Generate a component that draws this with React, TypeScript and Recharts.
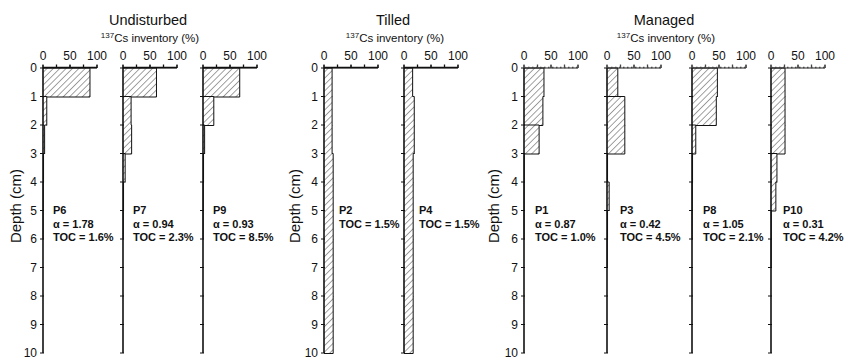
import React from 'react';
import { BarChart, Bar, XAxis, YAxis } from 'recharts';

// depth intervals (cm) and axis ticks
const depthBins = ['0-1', '1-2', '2-3', '3-4', '4-5', '5-6', '6-7', '7-8', '8-9', '9-10'];
const depthTicks = [0, 1, 2, 3, 4, 5, 6, 7, 8, 9, 10];
const pctTicks = [0, 25, 50, 75, 100];
const pctLabels = [0, 50, 100];

// 137Cs inventory (%) per 1-cm interval
const P6 = [87, 7, 3, 1, 0.5, 0.3, 0, 0, 0, 0];
const P7 = [62, 15, 16, 4, 1, 0.5, 0, 0, 0, 0];
const P9 = [68, 20, 3, 1, 0.5, 0.3, 0, 0, 0, 0];
const P2 = [15, 15, 15, 17, 17, 17, 17, 17, 17, 17];
const P4 = [16, 19, 19, 17, 17, 17, 17, 17, 17, 17];
const P1 = [37, 35, 28, 0.5, 0.3, 0.2, 0, 0, 0, 0];
const P3 = [20, 33, 33, 1, 4, 1, 0.5, 0, 0, 0];
const P8 = [47, 45, 7, 1, 0.5, 0.3, 0, 0, 0, 0];
const P10 = [26, 26, 26, 11, 9, 0.5, 0.3, 0, 0, 0];

// annotations
const panelNames = ['P6', 'P7', 'P9', 'P2', 'P4', 'P1', 'P3', 'P8', 'P10'];
const panelAlpha = ['1.78', '0.94', '0.93', '', '', '0.87', '0.42', '1.05', '0.31'];
const panelTOC = ['1.6%', '2.3%', '8.5%', '1.5%', '1.5%', '1.0%', '4.5%', '2.1%', '4.2%'];
const panelValues = [P6, P7, P9, P2, P4, P1, P3, P8, P10];

const groupTitles = ['Undisturbed', 'Tilled', 'Managed'];

// layout (pixels)
const panelX0 = [43, 123, 203, 324, 404, 524, 607, 692, 771];
const panelShowDepth = [true, false, false, true, false, true, false, false, false];
const panelDottedTop = [false, false, false, false, false, true, true, true, true];
const panelTextDx = [10, 10, 10, 15, 15, 11, 13, 11, 12];
const groupCenters = [148, 393, 664];
const depthLabelX = [15, 294, 493];

const FONT = '"Liberation Sans", Arial, Helvetica, sans-serif';
const ML = 30;
const MR = 12;
const PW = 54;
const TOP = 68;
const XH = 20;
const H = 362;
const BOTTOM = 9;
const HALF_BAND = (H - TOP - BOTTOM) / depthBins.length / 2;
const PCT_MAX = 100;

function makeShape(values: number[]) {
  return (props: any) => {
    const { x, y, width, height, index } = props;
    const cur = values[index];
    if (!cur || width <= 0) return <g />;
    const k = width / cur;
    const prev = index > 0 ? values[index - 1] : undefined;
    const next = index < values.length - 1 ? values[index + 1] : undefined;
    const segs: React.ReactNode[] = [];
    segs.push(<line key="r" x1={x + width} y1={y} x2={x + width} y2={y + height} />);
    if (prev === undefined || Math.abs(prev - cur) > 5) {
      segs.push(<line key="t" x1={x} y1={y} x2={x + width} y2={y} />);
    } else if (prev !== cur) {
      segs.push(<line key="t" x1={x + Math.min(prev, cur) * k} y1={y} x2={x + Math.max(prev, cur) * k} y2={y} />);
    }
    if (next === undefined || Math.abs(next - cur) > 5) {
      segs.push(<line key="b" x1={x} y1={y + height} x2={x + width} y2={y + height} />);
    }
    return (
      <g>
        <rect x={x} y={y} width={width} height={height} fill={props.fill} stroke="none" />
        <g stroke="#111" strokeWidth={1}>{segs}</g>
      </g>
    );
  };
}

function makeDepthTick(showLabels: boolean) {
  return (props: any) => {
    const { x, y, index } = props;
    const marks = [{ yy: y - HALF_BAND, label: depthTicks[index] }];
    if (index === depthBins.length - 1) marks.push({ yy: y + HALF_BAND, label: depthTicks[index + 1] });
    return (
      <g>
        {marks.map((m) => (
          <g key={m.label}>
            <line x1={x - 3} y1={m.yy} x2={x + 1} y2={m.yy} stroke="#111" strokeWidth={1} />
            {showLabels && (
              <text x={x - 6} y={m.yy} textAnchor="end" dominantBaseline="central" fontSize={12} fill="#111">
                {m.label}
              </text>
            )}
          </g>
        ))}
      </g>
    );
  };
}

function PctTick(props: any) {
  const { x, y, payload } = props;
  const v = payload.value;
  return (
    <g>
      <line x1={x} y1={y} x2={x} y2={y - 3} stroke="#222" strokeWidth={1} />
      {pctLabels.includes(v) && (
        <text x={x} y={y - 8} textAnchor="middle" fontSize={12} fill="#111">
          {v}
        </text>
      )}
    </g>
  );
}

function Panel({ idx }: { idx: number }) {
  const values = panelValues[idx];
  const data = depthBins.map((d, i) => ({ d, v: values[i] }));
  const hatchId = `hatch-${idx}`;
  const showDepth = panelShowDepth[idx];
  return (
    <div style={{ position: 'absolute', left: panelX0[idx] - ML, top: 0 }}>
      <BarChart
        width={ML + PW + MR}
        height={H}
        data={data}
        layout="vertical"
        margin={{ top: TOP - XH, bottom: BOTTOM, left: ML - 1, right: MR }}
        barCategoryGap={0}
      >
        <defs>
          <pattern id={hatchId} patternUnits="userSpaceOnUse" width={4.5} height={4.5} patternTransform="rotate(45)">
            <rect x={0} y={0} width={4.5} height={4.5} fill="#fff" />
            <line x1={0} y1={0} x2={0} y2={4.5} stroke="#444" strokeWidth={1} />
          </pattern>
        </defs>
        <XAxis
          type="number"
          orientation="top"
          domain={[0, PCT_MAX]}
          ticks={pctTicks}
          height={XH}
          tickSize={0}
          tickMargin={0}
          axisLine={{ stroke: '#222', strokeWidth: 1 }}
          tickLine={false}
          tick={<PctTick />}
          interval={0}
        />
        <YAxis
          type="category"
          dataKey="d"
          width={1}
          interval={0}
          tickSize={0}
          tickMargin={0}
          tickLine={false}
          axisLine={{ stroke: '#111', strokeWidth: 1.6 }}
          tick={makeDepthTick(showDepth)}
        />
        <Bar
          dataKey="v"
          fill={`url(#${hatchId})`}
          shape={makeShape(values)}
          isAnimationActive={false}
        />
      </BarChart>
    </div>
  );
}

export default function App() {
  return (
    <div
      style={{
        position: 'absolute',
        left: 0,
        top: 0,
        width: 846,
        height: H,
        background: '#fff',
        fontFamily: FONT,
      }}
    >
      {panelValues.map((_, i) => (
        <Panel key={i} idx={i} />
      ))}
      <svg
        width={846}
        height={H}
        style={{ position: 'absolute', left: 0, top: 0, pointerEvents: 'none', fontFamily: FONT }}
      >
        {panelX0.map((x0, i) => (
          <g key={`ax-${i}`} stroke={panelDottedTop[i] ? '#444' : '#111'} strokeWidth={1.3}>
            <line
              x1={x0}
              y1={TOP - 0.5}
              x2={x0 + PW}
              y2={TOP - 0.5}
              strokeDasharray={panelDottedTop[i] ? '1.5 2.5' : undefined}
            />
            {pctTicks.map((t) => (
              <line
                key={t}
                x1={x0 + (PW * t) / PCT_MAX}
                y1={TOP}
                x2={x0 + (PW * t) / PCT_MAX}
                y2={TOP - 3.5}
              />
            ))}
          </g>
        ))}
        {groupTitles.map((t, g) => (
          <g key={t}>
            <text x={groupCenters[g]} y={25} textAnchor="middle" fontSize={14.5} fill="#111">
              {t}
            </text>
            <text x={groupCenters[g] + 2} y={42} textAnchor="middle" fontSize={11.5} fill="#111">
              <tspan fontSize={8} dy={-4}>137</tspan>
              <tspan dy={4}>Cs inventory (%)</tspan>
            </text>
            <text
              x={depthLabelX[g]}
              y={206}
              textAnchor="middle"
              fontSize={15}
              fill="#111"
              transform={`rotate(-90 ${depthLabelX[g]} 206)`}
              dominantBaseline="central"
            >
              Depth (cm)
            </text>
          </g>
        ))}
        {panelNames.map((name, i) => {
          const x = panelX0[i] + panelTextDx[i];
          const lines = panelAlpha[i]
            ? [name, `α = ${panelAlpha[i]}`, `TOC = ${panelTOC[i]}`]
            : [name, `TOC = ${panelTOC[i]}`];
          return (
            <text key={name} x={x} y={214} fontSize={11} fontWeight="bold" fill="#111">
              {lines.map((l, k) => (
                <tspan key={k} x={x} dy={k === 0 ? 0 : 13.5}>
                  {l}
                </tspan>
              ))}
            </text>
          );
        })}
      </svg>
    </div>
  );
}
